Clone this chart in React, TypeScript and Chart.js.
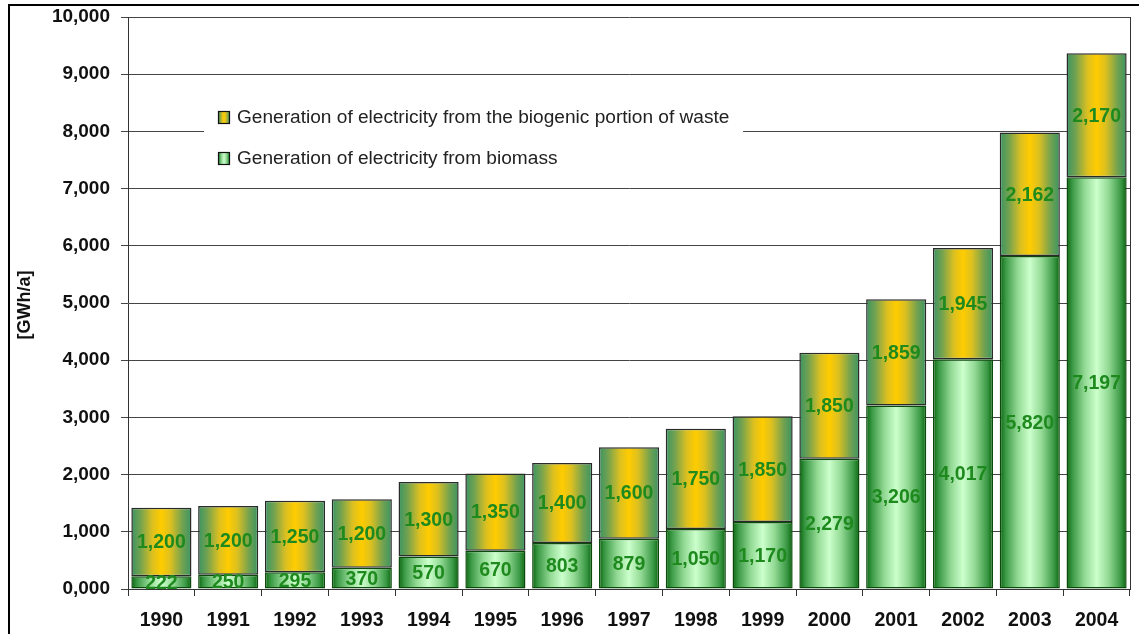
import React, { useEffect, useRef } from "react";
import { Chart, registerables } from "chart.js";

Chart.register(...registerables);

const years = ["1990", "1991", "1992", "1993", "1994", "1995", "1996", "1997", "1998", "1999", "2000", "2001", "2002", "2003", "2004"];
const biomass = [222, 250, 295, 370, 570, 670, 803, 879, 1050, 1170, 2279, 3206, 4017, 5820, 7197];
const waste = [1200, 1200, 1250, 1200, 1300, 1350, 1400, 1600, 1750, 1850, 1850, 1859, 1945, 2162, 2170];
const yTickLabels = ["0,000", "1,000", "2,000", "3,000", "4,000", "5,000", "6,000", "7,000", "8,000", "9,000", "10,000"];
const seriesNames = [
  "Generation of electricity from the biogenic portion of waste",
  "Generation of electricity from biomass",
];
const yTitle = "[GWh/a]";

const FONT = '"Liberation Sans", Arial, sans-serif';
const BAR_PCT = 0.9;

const biomassStops: [number, string][] = [
  [0, "#0a640f"],
  [0.1, "#3c9a46"],
  [0.3, "#92d994"],
  [0.5, "#ccffcc"],
  [0.7, "#92d994"],
  [0.9, "#3c9a46"],
  [1, "#0a640f"],
];
const wasteStops: [number, string][] = [
  [0, "#3a9462"],
  [0.15, "#72a250"],
  [0.35, "#dcc020"],
  [0.5, "#ffcc00"],
  [0.65, "#dcc020"],
  [0.85, "#72a250"],
  [1, "#3a9462"],
];

function makeGrad(ctx: CanvasRenderingContext2D, x0: number, x1: number, stops: [number, string][]) {
  const g = ctx.createLinearGradient(x0, 0, x1, 0);
  stops.forEach(([o, c]) => g.addColorStop(o, c));
  return g;
}

function barGradient(stops: [number, string][], fallback: string) {
  return (c: any) => {
    const chart = c.chart;
    if (!chart.chartArea || c.dataIndex === undefined) return fallback;
    const xs = chart.scales.x;
    const x = xs.getPixelForValue(c.dataIndex);
    const w = (xs.width / years.length) * BAR_PCT;
    return makeGrad(chart.ctx, x - w / 2, x + w / 2, stops);
  };
}

const decorPlugin = {
  id: "decor",
  afterDatasetsDraw(chart: any) {
    const ctx = chart.ctx as CanvasRenderingContext2D;
    ctx.save();
    ctx.font = `bold 19.5px ${FONT}`;
    ctx.fillStyle = "#1e8a1e";
    ctx.textAlign = "center";
    ctx.textBaseline = "middle";
    chart.data.datasets.forEach((ds: any, di: number) => {
      const meta = chart.getDatasetMeta(di);
      meta.data.forEach((el: any, i: number) => {
        const y = (el.y + el.base) / 2;
        ctx.fillText(Number(ds.data[i]).toLocaleString("en-US"), el.x, y + 1);
      });
    });
    ctx.restore();
  },
  afterDraw(chart: any) {
    const ctx = chart.ctx as CanvasRenderingContext2D;
    const { chartArea } = chart;
    ctx.save();
    // right frame of plot area
    ctx.strokeStyle = "#333";
    ctx.lineWidth = 1;
    ctx.beginPath();
    ctx.moveTo(Math.round(chartArea.right) + 0.5, chartArea.top);
    ctx.lineTo(Math.round(chartArea.right) + 0.5, chartArea.bottom);
    ctx.stroke();

    // legend box
    ctx.fillStyle = "#ffffff";
    ctx.fillRect(204, 98, 539, 76);
    ctx.font = `19.1px ${FONT}`;
    ctx.textAlign = "left";
    ctx.textBaseline = "middle";
    const rows = [
      { y: 117, stops: wasteStops, text: seriesNames[0] },
      { y: 158, stops: biomassStops, text: seriesNames[1] },
    ];
    rows.forEach((r) => {
      ctx.fillStyle = makeGrad(ctx, 218, 230, r.stops);
      ctx.fillRect(218, r.y - 6, 12, 13);
      ctx.strokeStyle = "#111";
      ctx.lineWidth = 1.2;
      ctx.strokeRect(218.5, r.y - 5.5, 11, 12);
      ctx.fillStyle = "#222";
      ctx.fillText(r.text, 237, r.y + 1);
    });

    // y title
    ctx.save();
    ctx.translate(25, 305);
    ctx.rotate(-Math.PI / 2);
    ctx.font = `bold 18px ${FONT}`;
    ctx.fillStyle = "#111";
    ctx.textAlign = "center";
    ctx.textBaseline = "middle";
    ctx.fillText(yTitle, 0, 0);
    ctx.restore();

    // outer frame
    ctx.fillStyle = "#000";
    ctx.fillRect(8, 4, chart.width - 8, 2);
    ctx.fillRect(8, 4, 2, chart.height - 4);
    ctx.restore();
  },
};

export default function App() {
  const ref = useRef<HTMLCanvasElement>(null);
  useEffect(() => {
    if (!ref.current) return;
    Chart.defaults.font.family = FONT;
    const chart = new Chart(ref.current, {
      type: "bar",
      data: {
        labels: years,
        datasets: [
          {
            label: seriesNames[1],
            data: biomass,
            backgroundColor: barGradient(biomassStops, "#8fd890"),
            borderColor: "#0b4a0b",
            borderWidth: 1.5,
            borderSkipped: false,
            barPercentage: BAR_PCT,
            categoryPercentage: 1,
          },
          {
            label: seriesNames[0],
            data: waste,
            backgroundColor: barGradient(wasteStops, "#ffcc00"),
            borderColor: "#2a2a2a",
            borderWidth: 1.5,
            borderSkipped: false,
            barPercentage: BAR_PCT,
            categoryPercentage: 1,
          },
        ],
      },
      options: {
        responsive: false,
        animation: false,
        devicePixelRatio: 1,
        layout: { padding: { left: 0, top: 17, right: 9, bottom: 0 } },
        plugins: { legend: { display: false }, tooltip: { enabled: false } },
        scales: {
          x: {
            stacked: true,
            grid: { display: true, drawOnChartArea: false, drawTicks: true, tickLength: 7, color: "#333", offset: true },
            border: { display: true, color: "#333", width: 1 },
            ticks: { font: { size: 19.5, weight: "bold", family: FONT }, color: "#111", padding: 13, maxRotation: 0 },
            afterFit: (s: any) => {
              s.height = 45;
              s.paddingLeft = 0;
              s.paddingRight = 0;
            },
          },
          y: {
            stacked: true,
            min: 0,
            max: 10000,
            grid: { color: "#444", tickLength: 7, lineWidth: 1 },
            border: { display: true, color: "#333", width: 1 },
            ticks: {
              stepSize: 1000,
              font: { size: 19, weight: "bold", family: FONT },
              color: "#111",
              padding: 11,
              callback: (_v: any, i: number) => yTickLabels[i],
            },
            afterFit: (s: any) => {
              s.width = 128;
              s.paddingTop = 0;
              s.paddingBottom = 0;
            },
          },
        },
      },
      plugins: [decorPlugin],
    });
    return () => chart.destroy();
  }, []);
  return (
    <div style={{ position: "fixed", left: 0, top: 0, width: 1139, height: 634, background: "#fff" }}>
      <canvas ref={ref} width={1139} height={634} style={{ display: "block" }} />
    </div>
  );
}
